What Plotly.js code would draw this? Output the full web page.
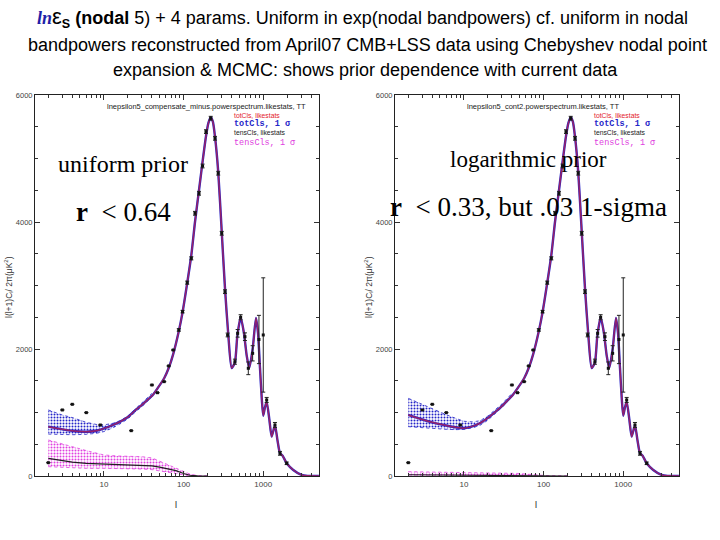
<!DOCTYPE html>
<html>
<head>
<meta charset="utf-8">
<script src="https://cdn.plot.ly/plotly-3.0.1.min.js"></script>
<style>
html, body { margin: 0; padding: 0; background: #fff; }
#chart { width: 720px; height: 540px; }
</style>
</head>
<body>
<div id="chart"></div>
<script>
// multipoles of the model curves
var ell = [2, 3, 4, 6, 8, 10, 13, 16, 20, 25, 30, 35, 41, 47, 57, 65, 74, 87, 97, 111, 125, 139, 156, 173, 191, 205, 219, 233, 248, 272, 301, 331, 364, 401, 441, 472, 520, 572, 619, 667, 736, 810, 860, 910, 960, 1000, 1050, 1104, 1190, 1275, 1403, 1510, 1622, 1750, 1968, 2382, 3036, 3600, 5000];
// totCls likestats, uniform prior (left) and logarithmic prior (right)
var totLeft = [777, 735, 712, 698, 712, 750, 805, 856, 930, 1040, 1120, 1195, 1276, 1380, 1540, 1700, 1920, 2280, 2580, 3040, 3480, 4000, 4500, 4950, 5350, 5560, 5650, 5580, 5340, 4790, 3850, 2950, 2220, 1700, 1790, 2200, 2500, 2250, 1900, 1700, 2000, 2490, 2250, 1700, 1200, 950, 1080, 1170, 900, 620, 800, 560, 360, 320, 200, 95, 16, 2, 0];
var totRight = [961, 890, 845, 795, 765, 752, 785, 835, 915, 1013, 1100, 1185, 1276, 1380, 1540, 1700, 1920, 2280, 2580, 3040, 3480, 4000, 4500, 4950, 5350, 5560, 5650, 5580, 5340, 4790, 3850, 2950, 2220, 1700, 1790, 2200, 2500, 2250, 1900, 1700, 2000, 2490, 2250, 1700, 1200, 950, 1080, 1170, 900, 620, 800, 560, 360, 320, 200, 95, 16, 2, 0];

// totCls 1 sigma band at low l
var ellBand = [2, 3, 4, 6, 8, 10, 13, 16, 20, 25, 30, 40];
var bandHiLeft = [1040, 960, 920, 845, 812, 805, 830, 872, 945, 1060, 1140, 1300];
var bandLoLeft = [660, 650, 650, 656, 672, 700, 760, 822, 900, 1012, 1092, 1250];
var bandHiRight = [1223, 1125, 1065, 965, 905, 862, 852, 872, 945, 1045, 1135, 1300];
var bandLoRight = [777, 760, 745, 735, 730, 735, 760, 800, 880, 985, 1080, 1250];

// tensCls likestats and 1 sigma band
var ellTens = [2, 3, 4, 6, 10, 15, 20, 30, 40, 50, 60, 70, 80, 100, 120, 150, 200];
var tensLeft = [278, 240, 220, 200, 189, 185, 182, 175, 160, 140, 120, 100, 85, 40, 12, 2, 0];
var tensHiLeft = [567, 500, 462, 400, 331, 315, 310, 304, 285, 235, 195, 160, 130, 75, 30, 6, 0];
var tensLoLeft = [147, 135, 125, 121, 121, 121, 120, 110, 100, 80, 55, 40, 28, 10, 2, 0, 0];
var tensRight = [20, 18, 17, 16, 15, 14, 13, 12, 10, 8, 6, 4, 3, 1, 0, 0, 0];
var tensHiRight = [68, 65, 62, 60, 58, 56, 55, 52, 48, 40, 30, 22, 15, 6, 2, 0, 0];
var tensLoRight = [0, 0, 0, 0, 0, 0, 0, 0, 0, 0, 0, 0, 0, 0, 0, 0, 0];

// April07 CMB bandpowers
var dataEll = [2, 3, 4, 6, 9, 22, 40, 47, 57, 65, 74, 87, 97, 111, 125, 139, 156, 173, 191, 219, 248, 272, 301, 331, 357, 441, 477, 520, 589, 649, 736, 883, 1000, 1104, 1403, 1622, 1968];
var dataD = [210, 1040, 1129, 998, 803, 714, 1433, 1312, 1486, 1733, 1984, 2300, 2588, 3045, 3428, 4137, 4452, 4882, 5423, 5634, 5318, 4768, 3822, 2903, 2221, 1800, 2247, 2500, 2194, 1696, 1932, 2150, 2221, 1197, 803, 357, 200];
var dataErr = [0, 0, 0, 0, 0, 0, 0, 0, 0, 0, 0, 20, 20, 25, 25, 30, 30, 30, 30, 30, 30, 30, 30, 30, 30, 40, 60, 40, 60, 100, 120, 380, 900, 40, 40, 30, 20];

var xMajor = [10, 100, 1000];
var xMajorText = ['10', '100', '1000'];
var xMinor = [2, 3, 4, 5, 6, 7, 8, 9, 20, 30, 40, 50, 60, 70, 80, 90, 200, 300, 400, 500, 600, 700, 800, 900, 2000, 3000, 4000, 5000];
var yMajor = [0, 2000, 4000, 6000];

var RED = '#e3202a', BLUE = '#2424c8', MAG = '#e040e0';

function panel(xa, ya, tot, bHi, bLo, tens, tHi, tLo) {
  return [
    {x: ellTens, y: tLo, xaxis: xa, yaxis: ya, mode: 'lines',
     line: {color: MAG, width: 0.8, dash: 'dot'}},
    {x: ellTens, y: tHi, xaxis: xa, yaxis: ya, mode: 'lines', fill: 'tonexty',
     fillcolor: 'rgba(230,120,230,0.18)',
     fillpattern: {shape: '.', fgcolor: MAG, size: 3, solidity: 0.35},
     line: {color: MAG, width: 0.8, dash: 'dot'}},
    {x: ellTens, y: tens, xaxis: xa, yaxis: ya, mode: 'lines',
     line: {color: '#202020', width: 1.2}},
    {x: ellBand, y: bLo, xaxis: xa, yaxis: ya, mode: 'lines',
     line: {color: BLUE, width: 0.8, dash: 'dot'}},
    {x: ellBand, y: bHi, xaxis: xa, yaxis: ya, mode: 'lines', fill: 'tonexty',
     fillcolor: 'rgba(90,90,230,0.15)',
     fillpattern: {shape: '.', fgcolor: BLUE, size: 3, solidity: 0.35},
     line: {color: BLUE, width: 0.8, dash: 'dot'}},
    {x: ell, y: tot, xaxis: xa, yaxis: ya, mode: 'lines', line: {color: BLUE, width: 2.4, shape: 'spline', smoothing: 0.6}},
    {x: ell, y: tot, xaxis: xa, yaxis: ya, mode: 'lines', opacity: 0.6, line: {color: RED, width: 1.5, shape: 'spline', smoothing: 0.6}},
    {x: dataEll, y: dataD, xaxis: xa, yaxis: ya, mode: 'markers',
     marker: {symbol: 'square', size: 3, color: '#111'},
     error_y: {type: 'data', array: dataErr, visible: true, color: '#222', thickness: 1, width: 2}}
  ];
}

var data = panel('x', 'y', totLeft, bandHiLeft, bandLoLeft, tensLeft, tensHiLeft, tensLoLeft)
  .concat(panel('x2', 'y2', totRight, bandHiRight, bandLoRight, tensRight, tensHiRight, tensLoRight));

function xAxis(dom, anchor) {
  return {domain: dom, anchor: anchor, type: 'log', range: [0.134, 3.70],
    tickmode: 'array', tickvals: xMajor, ticktext: xMajorText,
    ticks: 'inside', ticklen: 5, tickcolor: '#333', showline: true, mirror: 'ticks',
    linecolor: '#222', linewidth: 1, showgrid: false, zeroline: false,
    tickfont: {family: 'Liberation Sans', size: 8, color: '#444'},
    minor: {tickvals: xMinor, ticks: 'inside', ticklen: 3, tickcolor: '#333'}};
}
function yAxis(dom, anchor) {
  return {domain: dom, anchor: anchor, range: [0, 6000],
    tickmode: 'array', tickvals: yMajor,
    ticks: 'inside', ticklen: 5, tickcolor: '#333', showline: true, mirror: 'ticks',
    linecolor: '#222', linewidth: 1, showgrid: false, zeroline: false,
    tickfont: {family: 'Liberation Sans', size: 7.5, color: '#444'},
    minor: {dtick: 500, ticks: 'inside', ticklen: 3, tickcolor: '#333'}};
}

function px(x) { return x / 720; }
function py(y) { return 1 - y / 540; }
function note(x, y, text, font, extra) {
  var a = {xref: 'paper', yref: 'paper', x: px(x), y: py(y), text: text,
    showarrow: false, xanchor: 'center', yanchor: 'middle', font: font};
  for (var k in extra) a[k] = extra[k];
  return a;
}

var sans = 'Liberation Sans, Arial, sans-serif';
var serif = 'Liberation Serif, Times New Roman, serif';
var mono = 'Liberation Mono, Courier New, monospace';
var titleFont = {family: sans, size: 18, color: '#000'};

var annotations = [
  note(362, 18, '<span style="font-family:Liberation Serif;color:#1f1fa8"><b><i>ln</i></b></span><span style="font-size:22px">ε</span><sub><b>S</b></sub> <b>(nodal</b> 5) + 4 params. Uniform in exp(nodal bandpowers) cf. uniform in nodal', titleFont),
  note(367, 45, 'bandpowers reconstructed from April07 CMB+LSS data using Chebyshev nodal point', titleFont),
  note(365, 70, 'expansion &amp; MCMC: shows prior dependence with current data', titleFont),

  note(207, 106, 'lnepsilon5_compensate_minus.powerspectrum.likestats, TT', {family: sans, size: 7.5, color: '#222'}),
  note(543, 106, 'lnepsilon5_cont2.powerspectrum.likestats, TT', {family: sans, size: 7.5, color: '#222'}),

  note(123, 164, 'uniform prior', {family: serif, size: 24, color: '#000'}),
  note(123, 212, '<b>r</b>  &lt; 0.64', {family: serif, size: 27, color: '#000'}),
  note(528, 159, 'logarithmic prior', {family: serif, size: 23, color: '#000'}),
  note(528, 207, '<b>r</b>  &lt; 0.33, but .03 1-sigma', {family: serif, size: 27, color: '#000'}),

  note(8, 287, 'l(l+1)C<sub>l</sub>/ 2π(μK<sup>2</sup>)', {family: sans, size: 8.5, color: '#333'}, {textangle: -90}),
  note(368, 287, 'l(l+1)C<sub>l</sub>/ 2π(μK<sup>2</sup>)', {family: sans, size: 8.5, color: '#333'}, {textangle: -90}),
  note(176, 505, 'l', {family: sans, size: 9, color: '#222'}),
  note(536, 505, 'l', {family: sans, size: 9, color: '#222'})
];

var legendX = [232, 592];
legendX.forEach(function (lx) {
  annotations.push(note(lx, 115, 'totCls, likestats', {family: sans, size: 6.8, color: RED}, {xanchor: 'left'}));
  annotations.push(note(lx, 123.5, '<b>totCls, 1 σ</b>', {family: mono, size: 8.5, color: BLUE}, {xanchor: 'left'}));
  annotations.push(note(lx, 133, 'tensCls, likestats', {family: sans, size: 6.8, color: '#222'}, {xanchor: 'left'}));
  annotations.push(note(lx, 143, 'tensCls, 1 σ', {family: mono, size: 8.5, color: MAG}, {xanchor: 'left'}));
});

var layout = {
  width: 720, height: 540,
  margin: {l: 0, r: 0, t: 0, b: 0},
  paper_bgcolor: '#fff', plot_bgcolor: '#fff',
  showlegend: false,
  xaxis: xAxis([px(35), px(319)], 'y'),
  yaxis: yAxis([py(476), py(95)], 'x'),
  xaxis2: xAxis([px(395), px(679)], 'y2'),
  yaxis2: yAxis([py(476), py(95)], 'x2'),
  annotations: annotations
};

Plotly.newPlot('chart', data, layout, {staticPlot: true});
</script>
</body>
</html>
